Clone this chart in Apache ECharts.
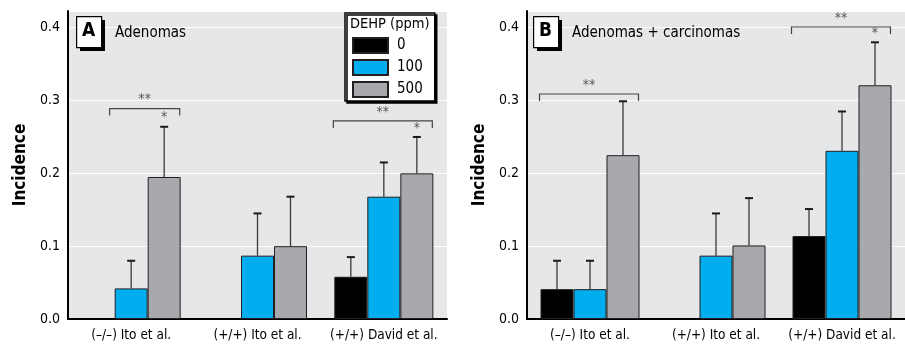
<!DOCTYPE html>
<html>
<head>
<meta charset="utf-8">
<script src="https://cdn.jsdelivr.net/npm/echarts@6/dist/echarts.min.js"></script>
<style>
  html, body { margin: 0; padding: 0; background: #fff; }
  #chart { width: 905px; height: 346px; }
</style>
</head>
<body>
<div id="chart"></div>
<script>
const categories = ['(\u2013/\u2013) Ito et al.', '(+/+) Ito et al.', '(+/+) David et al.'];
const doses = ['0', '100', '500'];
const yTicks = [0, 0.1, 0.2, 0.3, 0.4];

// panel A: adenomas
const adenomas0 = ['-', '-', 0.058];
const adenomas100 = [0.042, 0.087, 0.168];
const adenomas500 = [0.195, 0.100, 0.200];
const adenomasUpper0 = ['-', '-', 0.085];
const adenomasUpper100 = [0.080, 0.145, 0.215];
const adenomasUpper500 = [0.264, 0.168, 0.250];

// panel B: adenomas + carcinomas
const combined0 = [0.041, '-', 0.114];
const combined100 = [0.041, 0.087, 0.231];
const combined500 = [0.225, 0.101, 0.321];
const combinedUpper0 = [0.080, '-', 0.151];
const combinedUpper100 = [0.080, 0.145, 0.285];
const combinedUpper500 = [0.299, 0.166, 0.380];

// significance marks: [category, first dose index, bracket level]
const adenomasBrackets = [[0, 1, 0.289], [2, 0, 0.272]];
const combinedBrackets = [[0, 0, 0.309], [2, 0, 0.401]];
// single star above dose bar: [category, dose index]
const adenomasStars = [[0, 2], [2, 2]];
const combinedStars = [[2, 2]];

const FONT = '"Liberation Sans Narrow", "DejaVu Sans Condensed", "Roboto Condensed", sans-serif';
const BAR_W = 33;
const colors = ['#000000', '#00adee', '#a7a9ac'];

const chart = echarts.init(document.getElementById('chart'));

function errorData(uppers, values) {
  const out = [];
  uppers.forEach((up, d) => {
    up.forEach((u, c) => {
      if (u !== '-') out.push([c, d, values[d][c], u]);
    });
  });
  return out;
}

function upperOf(uppers, c, d) { return uppers[d][c]; }

function errorSeries(idx, uppers, values) {
  return {
    type: 'custom',
    xAxisIndex: idx, yAxisIndex: idx,
    z: 1,
    data: errorData(uppers, values),
    renderItem: (params, api) => {
      const c = api.value(0), d = api.value(1);
      const base = api.coord([c, api.value(2)]);
      const top = api.coord([c, api.value(3)]);
      const x = base[0] + (d - 1) * BAR_W;
      return {
        type: 'group',
        children: [
          { type: 'line', shape: { x1: x, y1: base[1], x2: x, y2: top[1] }, style: { stroke: '#3a3a3a', lineWidth: 1.3 } },
          { type: 'line', shape: { x1: x - 4, y1: top[1], x2: x + 4, y2: top[1] }, style: { stroke: '#1a1a1a', lineWidth: 2 } }
        ]
      };
    }
  };
}

function bracketSeries(idx, brackets) {
  return {
    type: 'custom',
    xAxisIndex: idx, yAxisIndex: idx,
    z: 3,
    data: brackets,
    renderItem: (params, api) => {
      const c = api.value(0), first = api.value(1);
      const p = api.coord([c, api.value(2)]);
      const x1 = p[0] + (first - 1.5) * BAR_W - (first > 0 ? 5 : 1);
      const x2 = p[0] + 1.5 * BAR_W - 1;
      const y = p[1];
      return {
        type: 'group',
        children: [
          { type: 'polyline', shape: { points: [[x1, y + 7], [x1, y], [x2, y], [x2, y + 7]] }, style: { stroke: '#444', lineWidth: 1.2, fill: null } },
          { type: 'text', x: (x1 + x2) / 2, y: y - 2, style: { text: '**', fill: '#555', font: '14px ' + FONT, align: 'center', verticalAlign: 'bottom' } }
        ]
      };
    }
  };
}

function starSeries(idx, stars, uppers) {
  return {
    type: 'custom',
    xAxisIndex: idx, yAxisIndex: idx,
    z: 3,
    data: stars.map(s => [s[0], s[1], upperOf(uppers, s[0], s[1])]),
    renderItem: (params, api) => {
      const p = api.coord([api.value(0), api.value(2)]);
      const x = p[0] + (api.value(1) - 1) * BAR_W;
      return { type: 'text', x: x, y: p[1] - 2, style: { text: '*', fill: '#555', font: '14px ' + FONT, align: 'center', verticalAlign: 'bottom' } };
    }
  };
}

function barSeries(idx, values) {
  return values.map((v, d) => ({
    name: doses[d],
    type: 'bar',
    xAxisIndex: idx, yAxisIndex: idx,
    barWidth: BAR_W,
    barGap: '0%',
    z: 2,
    itemStyle: { color: colors[d], borderColor: '#231f20', borderWidth: 1 },
    data: v
  }));
}

const grids = [
  { left: 68, right: 458, top: 11, bottom: 27 },
  { left: 527, right: 0, top: 11, bottom: 27 }
].map(g => Object.assign(g, { show: true, backgroundColor: '#e6e7e8', borderWidth: 0 }));

const xAxes = [0, 1].map(i => ({
  type: 'category',
  gridIndex: i,
  data: categories,
  axisLine: { lineStyle: { color: '#000', width: 2 } },
  axisTick: { show: false },
  axisLabel: { color: '#000', fontSize: 13.5, fontFamily: FONT, margin: 9, interval: 0 }
}));

const yAxes = [0, 1].map(i => ({
  type: 'value',
  gridIndex: i,
  min: yTicks[0],
  max: 0.423,
  interval: 0.1,
  name: 'Incidence',
  nameLocation: 'middle',
  nameGap: 39,
  nameTextStyle: { color: '#000', fontSize: 17, fontWeight: 'bold', fontFamily: FONT },
  axisLine: { show: true, lineStyle: { color: '#000', width: 2 } },
  axisTick: { show: false },
  splitLine: { lineStyle: { color: '#ffffff', width: 1 } },
  axisLabel: { color: '#000', fontSize: 14, fontFamily: FONT, margin: 8, showMaxLabel: false,
    formatter: v => yTicks.some(t => Math.abs(t - v) < 1e-9) ? v.toFixed(1) : '' }
}));

function panelLabel(x, letter, text) {
  return [
    { type: 'rect', left: x + 4, top: 20, shape: { width: 25, height: 31 }, style: { fill: '#000' }, z: 10 },
    { type: 'rect', left: x, top: 16, shape: { width: 25, height: 31 }, style: { fill: '#fff', stroke: '#000', lineWidth: 1.2 }, z: 11 },
    { type: 'text', left: x + 6, top: 22, style: { text: letter, font: 'bold 19px ' + FONT, fill: '#000' }, z: 12 },
    { type: 'text', left: x + 39, top: 26, style: { text: text, font: '15px ' + FONT, fill: '#000' }, z: 12 }
  ];
}

const option = {
  animation: false,
  textStyle: { fontFamily: FONT },
  grid: grids,
  xAxis: xAxes,
  yAxis: yAxes,
  legend: {
    data: doses,
    icon: 'rect',
    orient: 'vertical',
    left: 345,
    top: 13,
    padding: [24, 12, 3, 7],
    itemWidth: 35,
    itemHeight: 15,
    itemGap: 5,
    backgroundColor: '#fff',
    borderColor: '#000',
    borderWidth: 1.5,
    borderRadius: 0,
    shadowColor: '#000',
    shadowBlur: 0,
    shadowOffsetX: 2,
    shadowOffsetY: 2,
    selectedMode: false,
    textStyle: { color: '#000', fontSize: 15, fontFamily: FONT, padding: [0, 0, 0, 4] }
  },
  graphic: [
    ...panelLabel(76, 'A', 'Adenomas'),
    ...panelLabel(533, 'B', 'Adenomas + carcinomas'),
    { type: 'text', left: 350, top: 17, style: { text: 'DEHP (ppm)', font: '14.5px ' + FONT, fill: '#000' }, z: 20 }
  ],
  series: [
    ...barSeries(0, [adenomas0, adenomas100, adenomas500]),
    ...barSeries(1, [combined0, combined100, combined500]),
    errorSeries(0, [adenomasUpper0, adenomasUpper100, adenomasUpper500], [adenomas0, adenomas100, adenomas500]),
    errorSeries(1, [combinedUpper0, combinedUpper100, combinedUpper500], [combined0, combined100, combined500]),
    bracketSeries(0, adenomasBrackets),
    bracketSeries(1, combinedBrackets),
    starSeries(0, adenomasStars, [adenomasUpper0, adenomasUpper100, adenomasUpper500]),
    starSeries(1, combinedStars, [combinedUpper0, combinedUpper100, combinedUpper500])
  ]
};

chart.setOption(option);
</script>
</body>
</html>
